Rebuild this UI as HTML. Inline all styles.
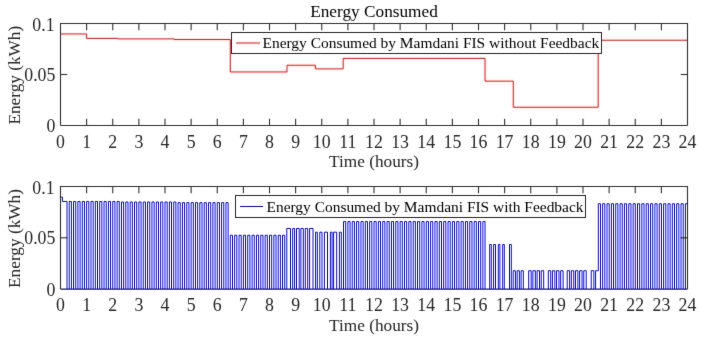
<!DOCTYPE html>
<html><head><meta charset="utf-8"><style>
html,body{margin:0;padding:0;background:#fff;width:701px;height:341px;overflow:hidden}
svg{display:block}
text{font-family:"Liberation Serif",serif}
</style></head><body>
<svg width="701" height="341" viewBox="0 0 701 341" font-family="Liberation Serif" fill="#000">
<defs>
<filter id="fa" x="0" y="0" width="701" height="341" filterUnits="userSpaceOnUse" color-interpolation-filters="sRGB">
<feColorMatrix in="SourceGraphic" type="matrix" values="0.299 0.587 0.114 0 0 0.299 0.587 0.114 0 0 0.299 0.587 0.114 0 0 0 0 0 1 0" result="Y"/>
<feColorMatrix in="SourceGraphic" type="matrix" values="0.3505 -0.2935 -0.057 0 0.50196 -0.1495 0.2065 -0.057 0 0.50196 -0.1495 -0.2935 0.443 0 0.50196 0 0 0 1 0" result="C"/>
<feConvolveMatrix in="Y" order="3" kernelMatrix="0.00640 0.06720 0.00640 0.06720 0.70560 0.06720 0.00640 0.06720 0.00640" edgeMode="duplicate" result="Yb"/>
<feConvolveMatrix in="C" order="5" kernelMatrix="0.00391 0.01562 0.02344 0.01562 0.00391 0.01562 0.06250 0.09375 0.06250 0.01562 0.02344 0.09375 0.14062 0.09375 0.02344 0.01562 0.06250 0.09375 0.06250 0.01562 0.00391 0.01562 0.02344 0.01562 0.00391" edgeMode="duplicate" result="Cb"/>
<feComposite in="Yb" in2="Cb" operator="arithmetic" k1="0" k2="1" k3="2" k4="-1.00392"/>
</filter>
<filter id="fb" x="0" y="0" width="701" height="341" filterUnits="userSpaceOnUse" color-interpolation-filters="sRGB">
<feColorMatrix in="SourceGraphic" type="matrix" values="0.299 0.587 0.114 0 0 0.299 0.587 0.114 0 0 0.299 0.587 0.114 0 0 0 0 0 1 0" result="Y"/>
<feColorMatrix in="SourceGraphic" type="matrix" values="0.3505 -0.2935 -0.057 0 0.50196 -0.1495 0.2065 -0.057 0 0.50196 -0.1495 -0.2935 0.443 0 0.50196 0 0 0 1 0" result="C"/>
<feConvolveMatrix in="Y" order="3" kernelMatrix="0.00160 0.03680 0.00160 0.03680 0.84640 0.03680 0.00160 0.03680 0.00160" edgeMode="duplicate" result="Yb"/>
<feConvolveMatrix in="C" order="5" kernelMatrix="0.00391 0.01562 0.02344 0.01562 0.00391 0.01562 0.06250 0.09375 0.06250 0.01562 0.02344 0.09375 0.14062 0.09375 0.02344 0.01562 0.06250 0.09375 0.06250 0.01562 0.00391 0.01562 0.02344 0.01562 0.00391" edgeMode="duplicate" result="Cb"/>
<feComposite in="Yb" in2="Cb" operator="arithmetic" k1="0" k2="1" k3="2" k4="-1.00392"/>
</filter>
<clipPath id="cb"><path d="M0,0 H701 V341 H0 Z M235.0,195.0 V218.0 H586.0 V195.0 Z" clip-rule="evenodd"/></clipPath>
</defs>
<g filter="url(#fa)">
<rect width="701" height="341" fill="#fff"/>
<path d="M60.50,33.96 L86.62,33.96 L86.62,38.39 L117.45,38.39 L117.45,38.90 L174.14,38.90 L174.14,39.55 L230.31,39.55 L230.31,71.95 L287.00,71.95 L287.00,65.22 L315.35,65.22 L315.35,68.89 L343.17,68.89 L343.17,58.38 L485.03,58.38 L485.03,81.13 L513.25,81.13 L513.25,107.24 L598.15,107.24 L598.15,40.23 L687.50,40.23" fill="none" stroke="#ff0000"/>
<path d="M60.5,125.5 L60.5,23.5 L687.50,23.5 L687.50,125.5" fill="none" stroke="#303030" stroke-width="1.1"/>
<line x1="60.5" y1="125.5" x2="687.50" y2="125.5" stroke="#303030" stroke-width="1.1"/>
<line x1="86.62" y1="23.5" x2="86.62" y2="30.3" stroke="#303030" stroke-width="1.1"/>
<line x1="86.62" y1="125.5" x2="86.62" y2="118.7" stroke="#303030" stroke-width="1.1"/>
<line x1="112.75" y1="23.5" x2="112.75" y2="30.3" stroke="#303030" stroke-width="1.1"/>
<line x1="112.75" y1="125.5" x2="112.75" y2="118.7" stroke="#303030" stroke-width="1.1"/>
<line x1="138.88" y1="23.5" x2="138.88" y2="30.3" stroke="#303030" stroke-width="1.1"/>
<line x1="138.88" y1="125.5" x2="138.88" y2="118.7" stroke="#303030" stroke-width="1.1"/>
<line x1="165.00" y1="23.5" x2="165.00" y2="30.3" stroke="#303030" stroke-width="1.1"/>
<line x1="165.00" y1="125.5" x2="165.00" y2="118.7" stroke="#303030" stroke-width="1.1"/>
<line x1="191.12" y1="23.5" x2="191.12" y2="30.3" stroke="#303030" stroke-width="1.1"/>
<line x1="191.12" y1="125.5" x2="191.12" y2="118.7" stroke="#303030" stroke-width="1.1"/>
<line x1="217.25" y1="23.5" x2="217.25" y2="30.3" stroke="#303030" stroke-width="1.1"/>
<line x1="217.25" y1="125.5" x2="217.25" y2="118.7" stroke="#303030" stroke-width="1.1"/>
<line x1="243.38" y1="23.5" x2="243.38" y2="30.3" stroke="#303030" stroke-width="1.1"/>
<line x1="243.38" y1="125.5" x2="243.38" y2="118.7" stroke="#303030" stroke-width="1.1"/>
<line x1="269.50" y1="23.5" x2="269.50" y2="30.3" stroke="#303030" stroke-width="1.1"/>
<line x1="269.50" y1="125.5" x2="269.50" y2="118.7" stroke="#303030" stroke-width="1.1"/>
<line x1="295.62" y1="23.5" x2="295.62" y2="30.3" stroke="#303030" stroke-width="1.1"/>
<line x1="295.62" y1="125.5" x2="295.62" y2="118.7" stroke="#303030" stroke-width="1.1"/>
<line x1="321.75" y1="23.5" x2="321.75" y2="30.3" stroke="#303030" stroke-width="1.1"/>
<line x1="321.75" y1="125.5" x2="321.75" y2="118.7" stroke="#303030" stroke-width="1.1"/>
<line x1="347.88" y1="23.5" x2="347.88" y2="30.3" stroke="#303030" stroke-width="1.1"/>
<line x1="347.88" y1="125.5" x2="347.88" y2="118.7" stroke="#303030" stroke-width="1.1"/>
<line x1="374.00" y1="23.5" x2="374.00" y2="30.3" stroke="#303030" stroke-width="1.1"/>
<line x1="374.00" y1="125.5" x2="374.00" y2="118.7" stroke="#303030" stroke-width="1.1"/>
<line x1="400.12" y1="23.5" x2="400.12" y2="30.3" stroke="#303030" stroke-width="1.1"/>
<line x1="400.12" y1="125.5" x2="400.12" y2="118.7" stroke="#303030" stroke-width="1.1"/>
<line x1="426.25" y1="23.5" x2="426.25" y2="30.3" stroke="#303030" stroke-width="1.1"/>
<line x1="426.25" y1="125.5" x2="426.25" y2="118.7" stroke="#303030" stroke-width="1.1"/>
<line x1="452.38" y1="23.5" x2="452.38" y2="30.3" stroke="#303030" stroke-width="1.1"/>
<line x1="452.38" y1="125.5" x2="452.38" y2="118.7" stroke="#303030" stroke-width="1.1"/>
<line x1="478.50" y1="23.5" x2="478.50" y2="30.3" stroke="#303030" stroke-width="1.1"/>
<line x1="478.50" y1="125.5" x2="478.50" y2="118.7" stroke="#303030" stroke-width="1.1"/>
<line x1="504.62" y1="23.5" x2="504.62" y2="30.3" stroke="#303030" stroke-width="1.1"/>
<line x1="504.62" y1="125.5" x2="504.62" y2="118.7" stroke="#303030" stroke-width="1.1"/>
<line x1="530.75" y1="23.5" x2="530.75" y2="30.3" stroke="#303030" stroke-width="1.1"/>
<line x1="530.75" y1="125.5" x2="530.75" y2="118.7" stroke="#303030" stroke-width="1.1"/>
<line x1="556.88" y1="23.5" x2="556.88" y2="30.3" stroke="#303030" stroke-width="1.1"/>
<line x1="556.88" y1="125.5" x2="556.88" y2="118.7" stroke="#303030" stroke-width="1.1"/>
<line x1="583.00" y1="23.5" x2="583.00" y2="30.3" stroke="#303030" stroke-width="1.1"/>
<line x1="583.00" y1="125.5" x2="583.00" y2="118.7" stroke="#303030" stroke-width="1.1"/>
<line x1="609.12" y1="23.5" x2="609.12" y2="30.3" stroke="#303030" stroke-width="1.1"/>
<line x1="609.12" y1="125.5" x2="609.12" y2="118.7" stroke="#303030" stroke-width="1.1"/>
<line x1="635.25" y1="23.5" x2="635.25" y2="30.3" stroke="#303030" stroke-width="1.1"/>
<line x1="635.25" y1="125.5" x2="635.25" y2="118.7" stroke="#303030" stroke-width="1.1"/>
<line x1="661.38" y1="23.5" x2="661.38" y2="30.3" stroke="#303030" stroke-width="1.1"/>
<line x1="661.38" y1="125.5" x2="661.38" y2="118.7" stroke="#303030" stroke-width="1.1"/>
<line x1="60.5" y1="74.50" x2="67.3" y2="74.50" stroke="#303030" stroke-width="1.1"/>
<line x1="687.50" y1="74.50" x2="680.70" y2="74.50" stroke="#303030" stroke-width="1.1"/>
<g font-size="17.8" fill="#262626"><text x="60.50" y="147.50" text-anchor="middle">0</text>
<text x="86.62" y="147.50" text-anchor="middle">1</text>
<text x="112.75" y="147.50" text-anchor="middle">2</text>
<text x="138.88" y="147.50" text-anchor="middle">3</text>
<text x="165.00" y="147.50" text-anchor="middle">4</text>
<text x="191.12" y="147.50" text-anchor="middle">5</text>
<text x="217.25" y="147.50" text-anchor="middle">6</text>
<text x="243.38" y="147.50" text-anchor="middle">7</text>
<text x="269.50" y="147.50" text-anchor="middle">8</text>
<text x="295.62" y="147.50" text-anchor="middle">9</text>
<text x="321.75" y="147.50" text-anchor="middle">10</text>
<text x="347.88" y="147.50" text-anchor="middle">11</text>
<text x="374.00" y="147.50" text-anchor="middle">12</text>
<text x="400.12" y="147.50" text-anchor="middle">13</text>
<text x="426.25" y="147.50" text-anchor="middle">14</text>
<text x="452.38" y="147.50" text-anchor="middle">15</text>
<text x="478.50" y="147.50" text-anchor="middle">16</text>
<text x="504.62" y="147.50" text-anchor="middle">17</text>
<text x="530.75" y="147.50" text-anchor="middle">18</text>
<text x="556.88" y="147.50" text-anchor="middle">19</text>
<text x="583.00" y="147.50" text-anchor="middle">20</text>
<text x="609.12" y="147.50" text-anchor="middle">21</text>
<text x="635.25" y="147.50" text-anchor="middle">22</text>
<text x="661.38" y="147.50" text-anchor="middle">23</text>
<text x="687.50" y="147.50" text-anchor="middle">24</text>
<text x="54.6" y="30.80" text-anchor="end">0.1</text>
<text x="55.4" y="81.10" text-anchor="end">0.05</text>
<text x="55.4" y="132.10" text-anchor="end">0</text></g>
<g font-size="17.25" fill="#262626">
<text x="374" y="17" text-anchor="middle" fill="#000">Energy Consumed</text>
<text x="374" y="167.00" text-anchor="middle">Time (hours)</text>
<text transform="translate(19.8,75.20) rotate(-90)" text-anchor="middle">Energy (kWh)</text>
<text x="374" y="330.60" text-anchor="middle">Time (hours)</text>
<text transform="translate(19.8,238.50) rotate(-90)" text-anchor="middle">Energy (kWh)</text>
</g>
<rect x="231.5" y="32.5" width="370" height="21" fill="#fff" stroke="#262626"/>
<line x1="236" y1="43" x2="260" y2="43" stroke="#ff0000"/>
<text x="262.5" y="48.4" font-size="15.45">Energy Consumed by Mamdani FIS without Feedback</text>
<path d="M60.5,289.1 L60.5,186.5 L687.50,186.5 L687.50,289.1" fill="none" stroke="#303030" stroke-width="1.1"/>
<line x1="86.62" y1="186.5" x2="86.62" y2="193.3" stroke="#303030" stroke-width="1.1"/>
<line x1="112.75" y1="186.5" x2="112.75" y2="193.3" stroke="#303030" stroke-width="1.1"/>
<line x1="138.88" y1="186.5" x2="138.88" y2="193.3" stroke="#303030" stroke-width="1.1"/>
<line x1="165.00" y1="186.5" x2="165.00" y2="193.3" stroke="#303030" stroke-width="1.1"/>
<line x1="191.12" y1="186.5" x2="191.12" y2="193.3" stroke="#303030" stroke-width="1.1"/>
<line x1="217.25" y1="186.5" x2="217.25" y2="193.3" stroke="#303030" stroke-width="1.1"/>
<line x1="243.38" y1="186.5" x2="243.38" y2="193.3" stroke="#303030" stroke-width="1.1"/>
<line x1="269.50" y1="186.5" x2="269.50" y2="193.3" stroke="#303030" stroke-width="1.1"/>
<line x1="295.62" y1="186.5" x2="295.62" y2="193.3" stroke="#303030" stroke-width="1.1"/>
<line x1="321.75" y1="186.5" x2="321.75" y2="193.3" stroke="#303030" stroke-width="1.1"/>
<line x1="347.88" y1="186.5" x2="347.88" y2="193.3" stroke="#303030" stroke-width="1.1"/>
<line x1="374.00" y1="186.5" x2="374.00" y2="193.3" stroke="#303030" stroke-width="1.1"/>
<line x1="400.12" y1="186.5" x2="400.12" y2="193.3" stroke="#303030" stroke-width="1.1"/>
<line x1="426.25" y1="186.5" x2="426.25" y2="193.3" stroke="#303030" stroke-width="1.1"/>
<line x1="452.38" y1="186.5" x2="452.38" y2="193.3" stroke="#303030" stroke-width="1.1"/>
<line x1="478.50" y1="186.5" x2="478.50" y2="193.3" stroke="#303030" stroke-width="1.1"/>
<line x1="504.62" y1="186.5" x2="504.62" y2="193.3" stroke="#303030" stroke-width="1.1"/>
<line x1="530.75" y1="186.5" x2="530.75" y2="193.3" stroke="#303030" stroke-width="1.1"/>
<line x1="556.88" y1="186.5" x2="556.88" y2="193.3" stroke="#303030" stroke-width="1.1"/>
<line x1="583.00" y1="186.5" x2="583.00" y2="193.3" stroke="#303030" stroke-width="1.1"/>
<line x1="609.12" y1="186.5" x2="609.12" y2="193.3" stroke="#303030" stroke-width="1.1"/>
<line x1="635.25" y1="186.5" x2="635.25" y2="193.3" stroke="#303030" stroke-width="1.1"/>
<line x1="661.38" y1="186.5" x2="661.38" y2="193.3" stroke="#303030" stroke-width="1.1"/>
<line x1="60.5" y1="237.80" x2="67.3" y2="237.80" stroke="#303030" stroke-width="1.1"/>
<line x1="687.50" y1="237.80" x2="680.70" y2="237.80" stroke="#303030" stroke-width="1.1"/>
<g font-size="17.8" fill="#262626"><text x="60.50" y="311.10" text-anchor="middle">0</text>
<text x="86.62" y="311.10" text-anchor="middle">1</text>
<text x="112.75" y="311.10" text-anchor="middle">2</text>
<text x="138.88" y="311.10" text-anchor="middle">3</text>
<text x="165.00" y="311.10" text-anchor="middle">4</text>
<text x="191.12" y="311.10" text-anchor="middle">5</text>
<text x="217.25" y="311.10" text-anchor="middle">6</text>
<text x="243.38" y="311.10" text-anchor="middle">7</text>
<text x="269.50" y="311.10" text-anchor="middle">8</text>
<text x="295.62" y="311.10" text-anchor="middle">9</text>
<text x="321.75" y="311.10" text-anchor="middle">10</text>
<text x="347.88" y="311.10" text-anchor="middle">11</text>
<text x="374.00" y="311.10" text-anchor="middle">12</text>
<text x="400.12" y="311.10" text-anchor="middle">13</text>
<text x="426.25" y="311.10" text-anchor="middle">14</text>
<text x="452.38" y="311.10" text-anchor="middle">15</text>
<text x="478.50" y="311.10" text-anchor="middle">16</text>
<text x="504.62" y="311.10" text-anchor="middle">17</text>
<text x="530.75" y="311.10" text-anchor="middle">18</text>
<text x="556.88" y="311.10" text-anchor="middle">19</text>
<text x="583.00" y="311.10" text-anchor="middle">20</text>
<text x="609.12" y="311.10" text-anchor="middle">21</text>
<text x="635.25" y="311.10" text-anchor="middle">22</text>
<text x="661.38" y="311.10" text-anchor="middle">23</text>
<text x="687.50" y="311.10" text-anchor="middle">24</text>
<text x="54.6" y="193.80" text-anchor="end">0.1</text>
<text x="55.4" y="244.40" text-anchor="end">0.05</text>
<text x="55.4" y="295.70" text-anchor="end">0</text></g>
<rect x="235.5" y="195.5" width="350" height="22" fill="#fff" stroke="#262626"/>
<line x1="240" y1="206.5" x2="263" y2="206.5" stroke="#0000ff"/>
<text x="266.5" y="211.8" font-size="15.45">Energy Consumed by Mamdani FIS with Feedback</text>
</g>
<g filter="url(#fb)" style="mix-blend-mode:multiply">
<rect width="701" height="341" fill="#fff"/>
<line x1="60.5" y1="289.1" x2="687.5" y2="289.1" stroke="#1c1c6e" stroke-width="1.1"/>
<path d="M60.50,197.07 L62.41,197.07 L62.41,201.48 L67.03,201.48 L67.03,289.10M69.21,289.10 L69.21,201.48 L71.39,201.48 L71.39,289.10M73.56,289.10 L73.56,201.48 L75.74,201.48 L75.74,289.10M77.92,289.10 L77.92,201.48 L80.09,201.48 L80.09,289.10M82.27,289.10 L82.27,201.48 L84.45,201.48 L84.45,289.10M86.62,289.10 L86.62,201.48 L88.80,201.48 L88.80,289.10M90.98,289.10 L90.98,201.48 L93.16,201.48 L93.16,289.10M95.33,289.10 L95.33,201.48 L97.51,201.48 L97.51,289.10M99.69,289.10 L99.69,201.48 L101.86,201.48 L101.86,289.10M104.04,289.10 L104.04,201.48 L106.22,201.48 L106.22,289.10M108.40,289.10 L108.40,201.48 L110.57,201.48 L110.57,289.10M112.75,289.10 L112.75,201.48 L114.93,201.48 L114.93,289.10M117.10,289.10 L117.10,201.48 L119.28,201.48 L119.28,289.10M121.46,289.10 L121.46,201.99 L123.64,201.99 L123.64,289.10M125.81,289.10 L125.81,201.99 L127.99,201.99 L127.99,289.10M130.17,289.10 L130.17,201.99 L132.34,201.99 L132.34,289.10M134.52,289.10 L134.52,201.99 L136.70,201.99 L136.70,289.10M138.88,289.10 L138.88,201.99 L141.05,201.99 L141.05,289.10M143.23,289.10 L143.23,201.99 L145.41,201.99 L145.41,289.10M147.58,289.10 L147.58,201.99 L149.76,201.99 L149.76,289.10M151.94,289.10 L151.94,201.99 L154.11,201.99 L154.11,289.10M156.29,289.10 L156.29,201.99 L158.47,201.99 L158.47,289.10M160.65,289.10 L160.65,201.99 L162.82,201.99 L162.82,289.10M165.00,289.10 L165.00,201.99 L167.18,201.99 L167.18,289.10M169.35,289.10 L169.35,201.99 L171.53,201.99 L171.53,289.10M173.71,289.10 L173.71,201.99 L175.89,201.99 L175.89,289.10M178.06,289.10 L178.06,202.65 L180.24,202.65 L180.24,289.10M182.42,289.10 L182.42,202.65 L184.59,202.65 L184.59,289.10M186.77,289.10 L186.77,202.65 L188.95,202.65 L188.95,289.10M191.12,289.10 L191.12,202.65 L193.30,202.65 L193.30,289.10M195.48,289.10 L195.48,202.65 L197.66,202.65 L197.66,289.10M199.83,289.10 L199.83,202.65 L202.01,202.65 L202.01,289.10M204.19,289.10 L204.19,202.65 L206.36,202.65 L206.36,289.10M208.54,289.10 L208.54,202.65 L210.72,202.65 L210.72,289.10M212.90,289.10 L212.90,202.65 L215.07,202.65 L215.07,289.10M217.25,289.10 L217.25,202.65 L219.43,202.65 L219.43,289.10M221.60,289.10 L221.60,202.65 L223.78,202.65 L223.78,289.10M225.96,289.10 L225.96,202.65 L228.14,202.65 L228.14,289.10M230.31,289.10 L230.31,235.24 L232.49,235.24 L232.49,289.10M234.67,289.10 L234.67,235.24 L236.84,235.24 L236.84,289.10M239.02,289.10 L239.02,235.24 L241.20,235.24 L241.20,289.10M243.38,289.10 L243.38,235.24 L245.55,235.24 L245.55,289.10M247.73,289.10 L247.73,235.24 L249.91,235.24 L249.91,289.10M252.08,289.10 L252.08,235.24 L254.26,235.24 L254.26,289.10M256.44,289.10 L256.44,235.24 L258.61,235.24 L258.61,289.10M260.79,289.10 L260.79,235.24 L262.97,235.24 L262.97,289.10M265.15,289.10 L265.15,235.24 L267.32,235.24 L267.32,289.10M269.50,289.10 L269.50,235.24 L271.68,235.24 L271.68,289.10M273.85,289.10 L273.85,235.24 L276.03,235.24 L276.03,289.10M278.21,289.10 L278.21,235.24 L280.39,235.24 L280.39,289.10M282.56,289.10 L282.56,235.24 L284.74,235.24 L284.74,289.10M286.80,289.10 L286.80,228.46 L290.50,228.46 L290.50,289.10M292.70,289.10 L292.70,228.46 L294.60,228.46 L294.60,289.10M296.50,289.10 L296.50,228.46 L299.20,228.46 L299.20,289.10M300.90,289.10 L300.90,228.46 L303.30,228.46 L303.30,289.10M305.30,289.10 L305.30,228.46 L307.70,228.46 L307.70,289.10M309.60,289.10 L309.60,228.46 L313.00,228.46 L313.00,289.10M315.60,289.10 L315.60,232.16 L317.30,232.16 L317.30,289.10M319.80,289.10 L319.80,232.16 L322.00,232.16 L322.00,289.10M324.40,289.10 L324.40,232.16 L327.50,232.16 L327.50,289.10M330.40,289.10 L330.40,232.16 L332.10,232.16 L332.10,289.10M333.60,289.10 L333.60,232.16 L336.70,232.16 L336.70,289.10M339.40,289.10 L339.40,232.16 L341.30,232.16 L341.30,289.10M343.52,289.10 L343.52,221.59 L345.70,221.59 L345.70,289.10M347.88,289.10 L347.88,221.59 L350.05,221.59 L350.05,289.10M352.23,289.10 L352.23,221.59 L354.41,221.59 L354.41,289.10M356.58,289.10 L356.58,221.59 L358.76,221.59 L358.76,289.10M360.94,289.10 L360.94,221.59 L363.11,221.59 L363.11,289.10M365.29,289.10 L365.29,221.59 L367.47,221.59 L367.47,289.10M369.65,289.10 L369.65,221.59 L371.82,221.59 L371.82,289.10M374.00,289.10 L374.00,221.59 L376.18,221.59 L376.18,289.10M378.35,289.10 L378.35,221.59 L380.53,221.59 L380.53,289.10M382.71,289.10 L382.71,221.59 L384.89,221.59 L384.89,289.10M387.06,289.10 L387.06,221.59 L389.24,221.59 L389.24,289.10M391.42,289.10 L391.42,221.59 L393.59,221.59 L393.59,289.10M395.77,289.10 L395.77,221.59 L397.95,221.59 L397.95,289.10M400.12,289.10 L400.12,221.59 L402.30,221.59 L402.30,289.10M404.48,289.10 L404.48,221.59 L406.66,221.59 L406.66,289.10M408.83,289.10 L408.83,221.59 L411.01,221.59 L411.01,289.10M413.19,289.10 L413.19,221.59 L415.36,221.59 L415.36,289.10M417.54,289.10 L417.54,221.59 L419.72,221.59 L419.72,289.10M421.90,289.10 L421.90,221.59 L424.07,221.59 L424.07,289.10M426.25,289.10 L426.25,221.59 L428.43,221.59 L428.43,289.10M430.60,289.10 L430.60,221.59 L432.78,221.59 L432.78,289.10M434.96,289.10 L434.96,221.59 L437.14,221.59 L437.14,289.10M439.31,289.10 L439.31,221.59 L441.49,221.59 L441.49,289.10M443.67,289.10 L443.67,221.59 L445.84,221.59 L445.84,289.10M448.02,289.10 L448.02,221.59 L450.20,221.59 L450.20,289.10M452.38,289.10 L452.38,221.59 L454.55,221.59 L454.55,289.10M456.73,289.10 L456.73,221.59 L458.91,221.59 L458.91,289.10M461.08,289.10 L461.08,221.59 L463.26,221.59 L463.26,289.10M465.44,289.10 L465.44,221.59 L467.61,221.59 L467.61,289.10M469.79,289.10 L469.79,221.59 L471.97,221.59 L471.97,289.10M474.15,289.10 L474.15,221.59 L476.32,221.59 L476.32,289.10M478.50,289.10 L478.50,221.59 L480.68,221.59 L480.68,289.10M482.85,289.10 L482.85,221.59 L485.03,221.59 L485.03,289.10M489.70,289.10 L489.70,244.47 L491.30,244.47 L491.30,289.10M493.60,289.10 L493.60,244.47 L495.50,244.47 L495.50,289.10M498.30,289.10 L498.30,244.47 L499.90,244.47 L499.90,289.10M502.70,289.10 L502.70,244.47 L504.30,244.47 L504.30,289.10M509.50,289.10 L509.50,244.47 L511.30,244.47 L511.30,289.10M513.20,289.10 L513.20,270.73 L515.43,270.73 L515.43,289.10M517.13,289.10 L517.13,270.73 L519.37,270.73 L519.37,289.10M521.07,289.10 L521.07,270.73 L523.30,270.73 L523.30,289.10M528.70,289.10 L528.70,270.73 L531.18,270.73 L531.18,289.10M532.88,289.10 L532.88,270.73 L535.35,270.73 L535.35,289.10M537.05,289.10 L537.05,270.73 L539.53,270.73 L539.53,289.10M541.23,289.10 L541.23,270.73 L543.70,270.73 L543.70,289.10M548.30,289.10 L548.30,270.73 L550.73,270.73 L550.73,289.10M552.42,289.10 L552.42,270.73 L554.85,270.73 L554.85,289.10M556.55,289.10 L556.55,270.73 L558.98,270.73 L558.98,289.10M560.67,289.10 L560.67,270.73 L563.10,270.73 L563.10,289.10M567.20,289.10 L567.20,270.73 L569.64,270.73 L569.64,289.10M571.34,289.10 L571.34,270.73 L573.78,270.73 L573.78,289.10M575.48,289.10 L575.48,270.73 L577.92,270.73 L577.92,289.10M579.62,289.10 L579.62,270.73 L582.06,270.73 L582.06,289.10M583.76,289.10 L583.76,270.73 L586.20,270.73 L586.20,289.10M591.20,289.10 L591.20,270.73 L593.90,270.73 L593.90,289.10M595.60,289.10 L595.60,270.73 L598.30,270.73 L598.30,203.74 L600.48,203.74 L600.48,289.10M602.65,289.10 L602.65,203.74 L604.83,203.74 L604.83,289.10M607.01,289.10 L607.01,203.74 L609.19,203.74 L609.19,289.10M611.36,289.10 L611.36,203.74 L613.54,203.74 L613.54,289.10M615.72,289.10 L615.72,203.74 L617.89,203.74 L617.89,289.10M620.07,289.10 L620.07,203.74 L622.25,203.74 L622.25,289.10M624.42,289.10 L624.42,203.74 L626.60,203.74 L626.60,289.10M628.78,289.10 L628.78,203.74 L630.96,203.74 L630.96,289.10M633.13,289.10 L633.13,203.74 L635.31,203.74 L635.31,289.10M637.49,289.10 L637.49,203.74 L639.66,203.74 L639.66,289.10M641.84,289.10 L641.84,203.74 L644.02,203.74 L644.02,289.10M646.20,289.10 L646.20,203.74 L648.37,203.74 L648.37,289.10M650.55,289.10 L650.55,203.74 L652.73,203.74 L652.73,289.10M654.90,289.10 L654.90,203.74 L657.08,203.74 L657.08,289.10M659.26,289.10 L659.26,203.74 L661.44,203.74 L661.44,289.10M663.61,289.10 L663.61,203.74 L665.79,203.74 L665.79,289.10M667.97,289.10 L667.97,203.74 L670.14,203.74 L670.14,289.10M672.32,289.10 L672.32,203.74 L674.50,203.74 L674.50,289.10M676.67,289.10 L676.67,203.74 L678.85,203.74 L678.85,289.10M681.03,289.10 L681.03,203.74 L683.21,203.74 L683.21,289.10M685.38,289.10 L685.38,203.74 L687.50,203.74" fill="none" stroke="#0000ff" stroke-width="0.95" clip-path="url(#cb)"/>
</g>
</svg>
</body></html>
